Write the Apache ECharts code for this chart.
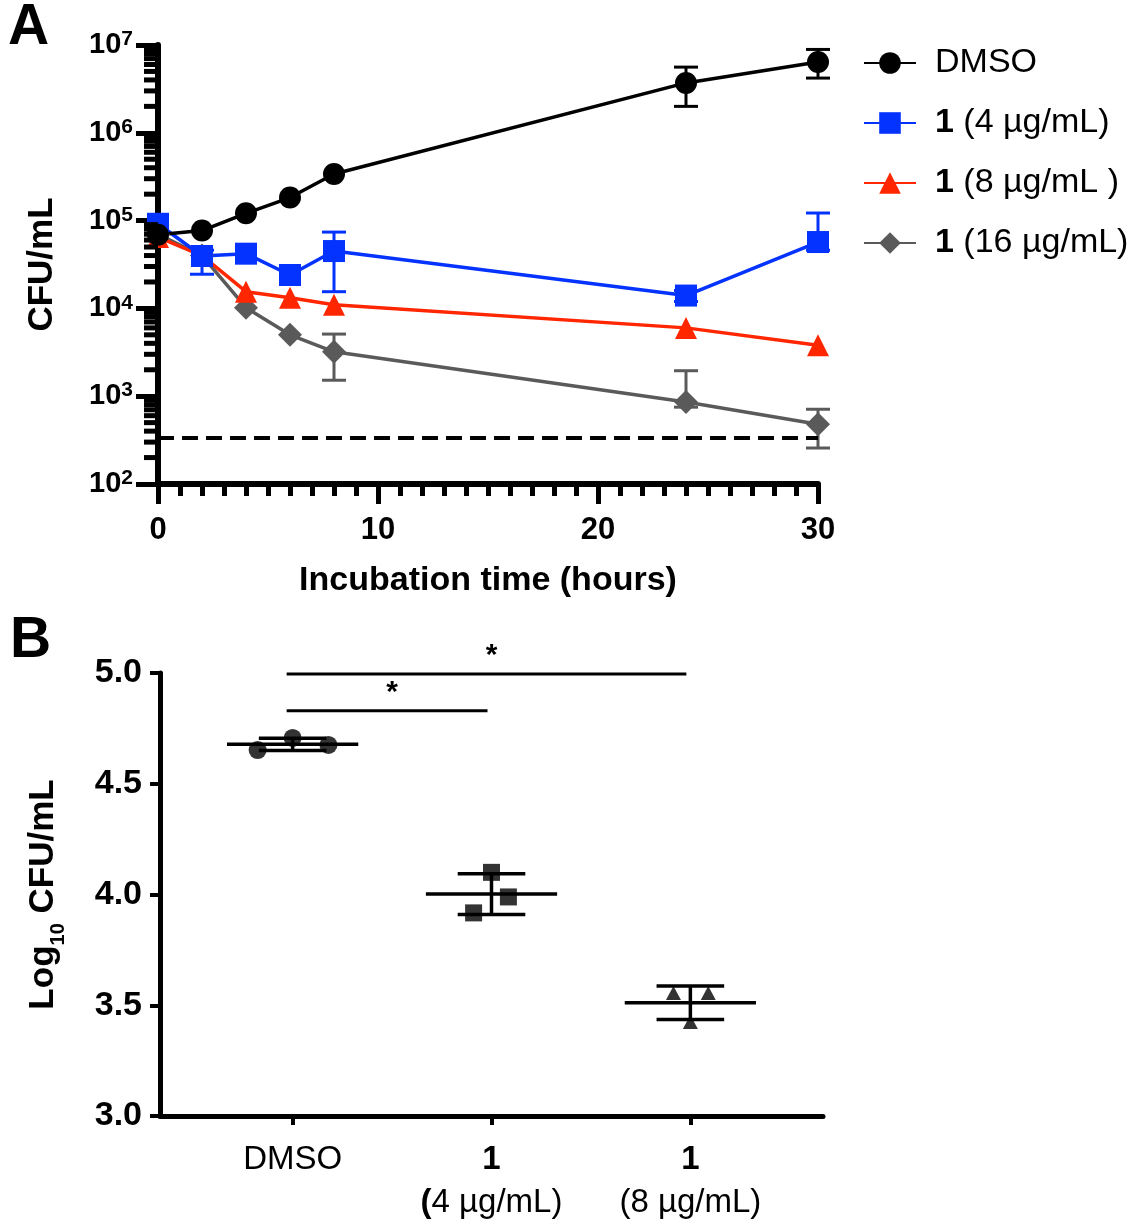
<!DOCTYPE html>
<html>
<head>
<meta charset="utf-8">
<script src="https://cdn.jsdelivr.net/npm/echarts@6/dist/echarts.min.js"></script>
<style>
html,body{margin:0;padding:0;background:#fff;}
#chart{width:1142px;height:1230px;}
</style>
</head>
<body>
<div id="chart"></div>
<script>
// ---------- Panel A data ----------
const timeH = [0, 2, 4, 6, 8, 24, 30];
const cfuDMSO = [6.9e4, 7.7e4, 1.21e5, 1.83e5, 3.4e5, 3.7e6, 6.4e6];
const cfu4 = [9.2e4, 3.95e4, 4.2e4, 2.4e4, 4.5e4, 1.4e4, 5.7e4];
const cfu8 = [6.5e4, 4.0e4, 1.55e4, 1.32e4, 1.1e4, 6.0e3, 3.8e3];
const cfu16 = [7.0e4, 4.0e4, 1.02e4, 5.0e3, 3.2e3, 8.6e2, 4.8e2];
// error bars [low, high] (null = hidden within symbol)
const errDMSO = [null, null, null, null, null, [2.0e6, 5.6e6], [4.2e6, 8.9e6]];
const err4 = [null, [2.45e4, 4.6e4], null, null, [1.55e4, 7.4e4], [1.2e4, 1.6e4], [4.6e4, 1.22e5]];
const err16 = [null, null, null, null, [1.52e3, 5.1e3], [7.5e2, 1.95e3], [2.57e2, 7.1e2]];
const detectionLimit = 333;
const seriesNamesA = ['DMSO', '1 (4 µg/mL)', '1 (8 µg/mL )', '1 (16 µg/mL)'];
const yDecadesA = [2, 3, 4, 5, 6, 7];
const minorMultipliers = [2, 3, 4, 5, 6, 7, 8, 9];

// ---------- Panel B data ----------
const groupsB = ['DMSO', '1 (4 µg/mL)', '1 (8 µg/mL)'];
const logDMSO = [4.652, 4.707, 4.675];
const log4 = [4.10, 3.989, 3.917];
const log8 = [3.555, 3.555, 3.424];
const jitterDMSO = [-0.176, 0, 0.18];
const jitter4 = [0, 0.085, -0.09];
const jitter8 = [-0.085, 0.09, 0];
const sigPairs = [[0, 1, 4.83], [0, 2, 4.995]];
const sigLabel = '*';

// ---------- styles ----------
const FONT = '"Liberation Sans", Arial, Helvetica, sans-serif';
const C_BLACK = '#000000', C_BLUE = '#0433ff', C_RED = '#ff2600', C_GRAY = '#5a5a5a';

function pairs(xs, ys) { return xs.map((x, i) => [x, ys[i]]); }
function errData(xs, errs) {
  const out = [];
  errs.forEach((e, i) => { if (e) out.push([xs[i], e[0], e[1]]); });
  return out;
}
function errRender(color) {
  return function (params, api) {
    const x = api.value(0), lo = api.value(1), hi = api.value(2);
    const pL = api.coord([x, lo]), pH = api.coord([x, hi]);
    const w = 12, st = { stroke: color, lineWidth: 3 };
    return { type: 'group', children: [
      { type: 'line', shape: { x1: pL[0], y1: pL[1], x2: pH[0], y2: pH[1] }, style: st },
      { type: 'line', shape: { x1: pL[0] - w, y1: pL[1], x2: pL[0] + w, y2: pL[1] }, style: st },
      { type: 'line', shape: { x1: pH[0] - w, y1: pH[1], x2: pH[0] + w, y2: pH[1] }, style: st }
    ]};
  };
}
// minor log ticks (2..9 per decade)
const minorTickVals = [];
yDecadesA.slice(0, -1).forEach(d => minorMultipliers.forEach(m => minorTickVals.push([0, m * Math.pow(10, d)])));

function mean(a) { return a.reduce((s, v) => s + v, 0) / a.length; }
function sd(a) { const m = mean(a); return Math.sqrt(a.reduce((s, v) => s + (v - m) * (v - m), 0) / (a.length - 1)); }
const summaryB = [logDMSO, log4, log8].map((arr, i) => [i, mean(arr), sd(arr)]);

const chart = echarts.init(document.getElementById('chart'), null, { renderer: 'canvas' });

const option = {
  backgroundColor: '#fff',
  animation: false,
  textStyle: { fontFamily: FONT },
  graphic: [
    { type: 'text', left: 8, top: 0, style: { text: 'A', font: 'bold 57px ' + FONT, fill: '#000' } },
    { type: 'text', left: 10, top: 613, style: { text: 'B', font: 'bold 57px ' + FONT, fill: '#000' } }
  ],
  legend: {
    left: 858, top: 38, orient: 'vertical',
    itemWidth: 52, itemHeight: 27, itemGap: 20,
    data: seriesNamesA,
    formatter: n => n.startsWith('1 ') ? '{b|1}' + n.slice(1) : n,
    textStyle: { fontFamily: FONT, fontSize: 34, color: '#000', lineHeight: 40, padding: [0, 0, 0, 14],
      rich: { b: { fontFamily: FONT, fontSize: 34, fontWeight: 'bold', color: '#000', lineHeight: 40 } } }
  },
  grid: [
    { left: 158, top: 45, width: 660, height: 439 },
    { left: 160, top: 673, width: 663, height: 443 }
  ],
  xAxis: [
    {
      gridIndex: 0, type: 'value', min: 0, max: 30, interval: 10,
      name: 'Incubation time (hours)', nameLocation: 'middle', nameGap: 80,
      nameTextStyle: { fontFamily: FONT, fontSize: 34, fontWeight: 'bold', color: '#000' },
      axisLine: { onZero: false, lineStyle: { color: '#000', width: 6 } },
      axisTick: { length: 20, lineStyle: { width: 5, color: '#000' } },
      minorTick: { show: true, splitNumber: 10, length: 12, lineStyle: { width: 5, color: '#000' } },
      axisLabel: { margin: 31, fontFamily: FONT, fontSize: 31, fontWeight: 'bold', color: '#000' },
      splitLine: { show: false }
    },
    {
      gridIndex: 1, type: 'value', min: -0.667, max: 2.667,
      axisLine: { onZero: false, lineStyle: { color: '#000', width: 5 } },
      axisTick: { customValues: [0, 1, 2], length: 9, lineStyle: { width: 4, color: '#000' } },
      axisLabel: {
        customValues: [0, 1, 2], margin: 22,
        formatter: v => {
          const g = groupsB[Math.round(v)];
          if (!g) return '';
          if (g.startsWith('1 ')) {
            const rest = g.slice(2);
            const pre = Math.round(v) === 1 ? '{p|(}{n|' + rest.slice(1) + '}' : '{n|' + rest + '}';
            return '{b|1}\n' + pre;
          }
          return '{n|' + g + '}';
        },
        rich: {
          n: { fontFamily: FONT, fontSize: 33, color: '#000', lineHeight: 43 },
          p: { fontFamily: FONT, fontSize: 33, fontWeight: 'bold', color: '#000', lineHeight: 43 },
          b: { fontFamily: FONT, fontSize: 33, fontWeight: 'bold', color: '#000', lineHeight: 43 }
        }
      },
      splitLine: { show: false }
    }
  ],
  yAxis: [
    {
      gridIndex: 0, type: 'log', logBase: 10, min: 100, max: 1e7,
      name: 'CFU/mL', nameLocation: 'middle', nameGap: 98,
      nameTextStyle: { fontFamily: FONT, fontSize: 35, fontWeight: 'bold', color: '#000' },
      axisLine: { onZero: false, lineStyle: { color: '#000', width: 6 } },
      axisTick: { length: 22, lineStyle: { width: 5, color: '#000' } },
      axisLabel: {
        margin: 25,
        formatter: v => '{b|10}{s|' + Math.round(Math.log10(v)) + '}',
        rich: {
          b: { fontFamily: FONT, fontSize: 29, fontWeight: 'bold', color: '#000', lineHeight: 32 },
          s: { fontFamily: FONT, fontSize: 21, fontWeight: 'bold', color: '#000', lineHeight: 21, verticalAlign: 'top' }
        }
      },
      splitLine: { show: false }
    },
    {
      gridIndex: 1, type: 'value', min: 3, max: 5, interval: 0.5,
      name: '{n|Log}{sub|10}{n| CFU/mL}', nameLocation: 'middle', nameGap: 92,
      nameTextStyle: { fontFamily: FONT, color: '#000',
        rich: {
          n: { fontFamily: FONT, fontSize: 35, fontWeight: 'bold', color: '#000', lineHeight: 50 },
          sub: { fontFamily: FONT, fontSize: 20, fontWeight: 'bold', color: '#000', lineHeight: 20, verticalAlign: 'bottom' }
        } },
      axisLine: { onZero: false, lineStyle: { color: '#000', width: 5 } },
      axisTick: { length: 10, lineStyle: { width: 4, color: '#000' } },
      axisLabel: { margin: 18, fontFamily: FONT, fontSize: 34, fontWeight: 'bold', color: '#000',
        formatter: v => v.toFixed(1) },
      splitLine: { show: false }
    }
  ],
  series: [
    // minor log ticks panel A
    { type: 'custom', xAxisIndex: 0, yAxisIndex: 0, silent: true, clip: false, z: 5,
      encode: { x: 0, y: 1 }, data: minorTickVals,
      renderItem: (params, api) => {
        const p = api.coord([api.value(0), api.value(1)]);
        return { type: 'line', shape: { x1: p[0] - 14, y1: p[1], x2: p[0], y2: p[1] }, style: { stroke: '#000', lineWidth: 5 } };
      } },
    // error bars A
    { type: 'custom', xAxisIndex: 0, yAxisIndex: 0, silent: true, z: 1, encode: { x: 0, y: [1, 2] },
      data: errData(timeH, err16), renderItem: errRender(C_GRAY) },
    { type: 'custom', xAxisIndex: 0, yAxisIndex: 0, silent: true, z: 1, encode: { x: 0, y: [1, 2] },
      data: errData(timeH, err4), renderItem: errRender(C_BLUE) },
    { type: 'custom', xAxisIndex: 0, yAxisIndex: 0, silent: true, z: 1, encode: { x: 0, y: [1, 2] },
      data: errData(timeH, errDMSO), renderItem: errRender(C_BLACK) },
    // lines A (draw order: gray, red, blue, black on top)
    { name: seriesNamesA[3], type: 'line', xAxisIndex: 0, yAxisIndex: 0, data: pairs(timeH, cfu16),
      symbol: 'diamond', symbolSize: 24, color: C_GRAY, lineStyle: { color: C_GRAY, width: 3.5 }, itemStyle: { color: C_GRAY }, z: 2 },
    { name: seriesNamesA[2], type: 'line', xAxisIndex: 0, yAxisIndex: 0, data: pairs(timeH, cfu8),
      symbol: 'triangle', symbolSize: 22, color: C_RED, lineStyle: { color: C_RED, width: 3.5 }, itemStyle: { color: C_RED }, z: 2 },
    { name: seriesNamesA[1], type: 'line', xAxisIndex: 0, yAxisIndex: 0, data: pairs(timeH, cfu4),
      symbol: 'rect', symbolSize: 22, color: C_BLUE, lineStyle: { color: C_BLUE, width: 3.5 }, itemStyle: { color: C_BLUE }, z: 2 },
    { name: seriesNamesA[0], type: 'line', xAxisIndex: 0, yAxisIndex: 0, data: pairs(timeH, cfuDMSO),
      symbol: 'circle', symbolSize: 22, color: C_BLACK, lineStyle: { color: C_BLACK, width: 3.5 }, itemStyle: { color: C_BLACK }, z: 2,
      markLine: { silent: true, symbol: 'none', label: { show: false },
        lineStyle: { color: '#000', width: 4, type: [16, 8] },
        data: [{ yAxis: detectionLimit }] } },
    // panel B mean ± SD
    { type: 'custom', xAxisIndex: 1, yAxisIndex: 1, silent: true, z: 1, encode: { x: 0, y: 1 },
      data: summaryB,
      renderItem: (params, api) => {
        const x = api.value(0), m = api.value(1), s = api.value(2);
        const pm = api.coord([x, m]), pHi = api.coord([x, m + s]), pLo = api.coord([x, m - s]);
        const unit = api.size([1, 0])[0];
        const wm = unit * 0.33, wc = unit * 0.17;
        const st = { stroke: '#000', lineWidth: 3.5 };
        return { type: 'group', children: [
          { type: 'line', shape: { x1: pm[0] - wm, y1: pm[1], x2: pm[0] + wm, y2: pm[1] }, style: st },
          { type: 'line', shape: { x1: pHi[0], y1: pHi[1], x2: pLo[0], y2: pLo[1] }, style: st },
          { type: 'line', shape: { x1: pHi[0] - wc, y1: pHi[1], x2: pHi[0] + wc, y2: pHi[1] }, style: st },
          { type: 'line', shape: { x1: pLo[0] - wc, y1: pLo[1], x2: pLo[0] + wc, y2: pLo[1] }, style: st }
        ]};
      } },
    // panel B points
    { type: 'scatter', xAxisIndex: 1, yAxisIndex: 1, symbol: 'circle', symbolSize: 18, itemStyle: { color: '#000' }, z: 2,
      data: logDMSO.map((v, i) => [0 + jitterDMSO[i], v]) },
    { type: 'scatter', xAxisIndex: 1, yAxisIndex: 1, symbol: 'rect', symbolSize: 17, itemStyle: { color: '#000' }, z: 2,
      data: log4.map((v, i) => [1 + jitter4[i], v]) },
    { type: 'scatter', xAxisIndex: 1, yAxisIndex: 1, symbol: 'triangle', symbolSize: [15, 14], itemStyle: { color: '#000' }, z: 2,
      data: log8.map((v, i) => [2 + jitter8[i], v]) },
    // significance bars
    { type: 'custom', xAxisIndex: 1, yAxisIndex: 1, silent: true, clip: false, z: 3, encode: { x: [0, 1], y: 2 },
      data: sigPairs,
      renderItem: (params, api) => {
        const a = api.coord([api.value(0), api.value(2)]);
        const b = api.coord([api.value(1), api.value(2)]);
        return { type: 'group', children: [
          { type: 'line', shape: { x1: a[0] - 6, y1: a[1], x2: b[0] - 4, y2: b[1] }, style: { stroke: '#000', lineWidth: 3 } },
          { type: 'text', x: (a[0] + b[0]) / 2, y: a[1] - 3,
            style: { text: sigLabel, font: 'bold 30px ' + FONT, fill: '#000', align: 'center', verticalAlign: 'bottom' } }
        ]};
      } }
  ]
};
chart.setOption(option);
</script>
</body>
</html>
